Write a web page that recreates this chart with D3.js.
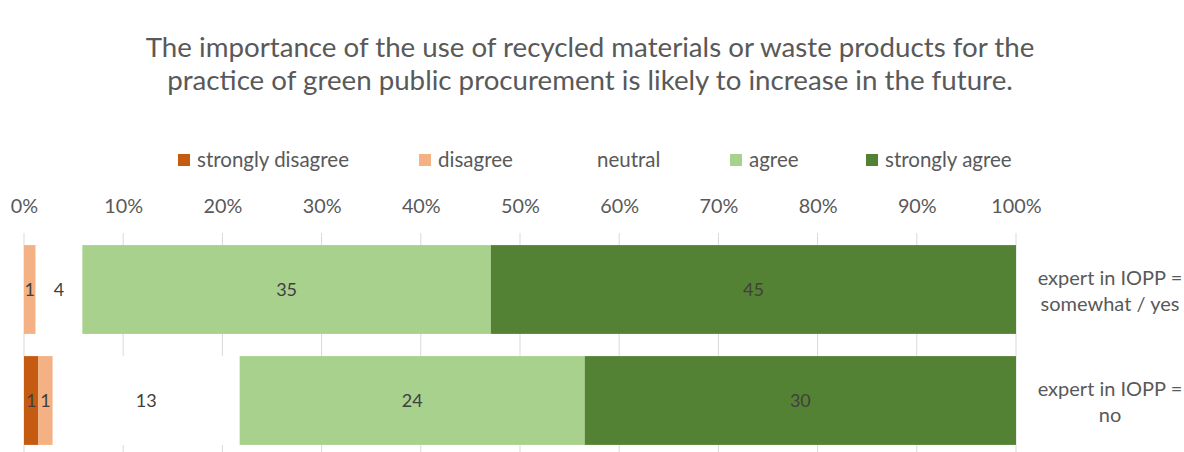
<!DOCTYPE html>
<html>
<head>
<meta charset="utf-8">
<script src="https://cdn.jsdelivr.net/npm/d3@7"></script>
<style>
  html, body { margin: 0; padding: 0; background: #fff; }
  svg { display: block; font-family: Lato, "Open Sans", sans-serif; }
</style>
</head>
<body>
<svg id="chart" width="1184" height="452"></svg>
<script>
// Survey responses per group
const groups = ["expert in IOPP =\nsomewhat / yes", "expert in IOPP =\nno"];
const responses = ["strongly disagree", "disagree", "neutral", "agree", "strongly agree"];
const stronglyDisagree = [0, 1];
const disagree = [1, 1];
const neutral = [4, 13];
const agree = [35, 24];
const stronglyAgree = [45, 30];
const tickValues = [0, 0.1, 0.2, 0.3, 0.4, 0.5, 0.6, 0.7, 0.8, 0.9, 1];
const titleLines = [
  "The importance of the use of recycled materials or waste products for the",
  "practice of green public procurement is likely to increase in the future."
];

const colors = ["#c55a11", "#f4b183", "#ffffff", "#a9d18e", "#548235"];
const textColor = "#595959";

const svg = d3.select("#chart");

// Title
svg.append("g").selectAll("text").data(titleLines).join("text")
  .attr("x", 590).attr("y", (d, i) => 57 + i * 33)
  .attr("text-anchor", "middle")
  .attr("fill", textColor)
  .attr("font-size", 27.7)
  .text(d => d);

// Legend
const legendX = [178, 419, 578, 730, 866];
const legend = svg.append("g").selectAll("g").data(responses).join("g")
  .attr("transform", (d, i) => `translate(${legendX[i]},160)`);
legend.append("rect")
  .attr("x", 0).attr("y", -6).attr("width", 12).attr("height", 12)
  .attr("fill", (d, i) => colors[i]);
legend.append("text")
  .attr("x", 19).attr("y", 0).attr("dy", "0.35em")
  .attr("fill", textColor).attr("font-size", 20.5)
  .text(d => d);

// Stack the counts and normalise each row to 100 %
const rows = groups.map((g, i) => {
  const vals = [stronglyDisagree[i], disagree[i], neutral[i], agree[i], stronglyAgree[i]];
  const total = d3.sum(vals);
  const o = { group: g, total };
  responses.forEach((r, k) => { o[r] = vals[k]; });
  return o;
});
const stack = d3.stack().keys(responses)
  .value((d, key) => d[key] / d.total);
const series = stack(rows);

const x = d3.scaleLinear().domain([0, 1]).range([24, 1016]);
const y = d3.scaleBand().domain(groups).range([234, 456]).paddingInner(0.2).paddingOuter(0.1);

// Gridlines
svg.append("g").selectAll("line").data(tickValues).join("line")
  .attr("x1", d => x(d)).attr("x2", d => x(d))
  .attr("y1", 233).attr("y2", 452)
  .attr("stroke", "#d9d9d9").attr("stroke-width", 1);

// Axis labels on top
const axis = d3.axisTop(x).tickValues(tickValues).tickFormat(d3.format(".0%")).tickSize(0).tickPadding(0);
const axisG = svg.append("g").attr("transform", "translate(0,213)").call(axis);
axisG.select(".domain").remove();
axisG.selectAll("text").attr("fill", textColor).attr("font-size", 19.8)
  .attr("font-family", "Lato, 'Open Sans', sans-serif").attr("dy", 0);

// Bars
const layer = svg.append("g").selectAll("g").data(series).join("g")
  .attr("fill", (d, i) => colors[i]);
layer.selectAll("rect").data(d => d.map(p => ({ p, key: d.key }))).join("rect")
  .attr("x", d => x(d.p[0]))
  .attr("width", d => x(d.p[1]) - x(d.p[0]))
  .attr("y", d => y(d.p.data.group))
  .attr("height", y.bandwidth());

// Value labels
layer.selectAll("text").data(d => d.map(p => ({ p, key: d.key })).filter(d => d.p.data[d.key] > 0)).join("text")
  .attr("x", d => (x(d.p[0]) + x(d.p[1])) / 2)
  .attr("y", d => y(d.p.data.group) + y.bandwidth() / 2)
  .attr("dy", "0.35em")
  .attr("text-anchor", "middle")
  .attr("fill", "#404040").attr("font-size", 18)
  .text(d => d.p.data[d.key]);

// Group labels on the right
const gl = svg.append("g").selectAll("text").data(groups).join("text")
  .attr("x", 1110)
  .attr("y", d => y(d) + y.bandwidth() / 2)
  .attr("text-anchor", "middle")
  .attr("fill", textColor).attr("font-size", 20);
gl.selectAll("tspan").data(d => d.split("\n")).join("tspan")
  .attr("x", 1110)
  .attr("y", function (d, i) { return +this.parentNode.getAttribute("y") + (i === 0 ? -5 : 21); })
  .text(d => d);
</script>
</body>
</html>
